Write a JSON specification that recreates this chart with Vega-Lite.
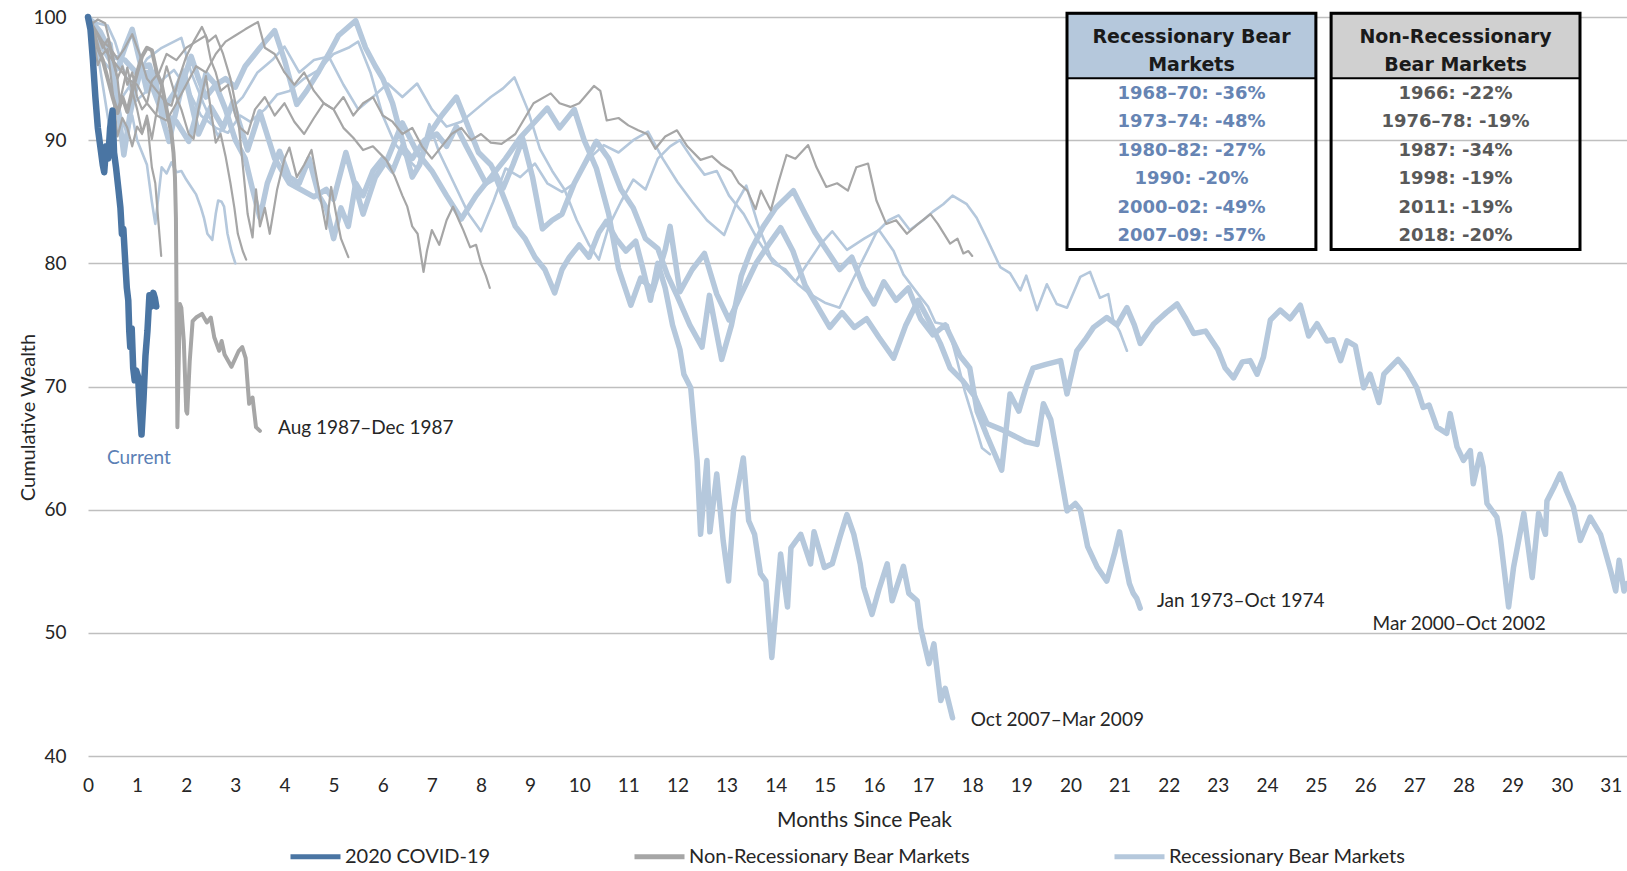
{
"$schema":"https://vega.github.io/schema/vega-lite/v6.json",
"width":1539,"height":739,
"autosize":{"type":"none"},
"padding":{"left":88,"top":17,"right":0,"bottom":115},
"background":"white",
"config":{"view":{"stroke":null},"font":"Lato"},
"datasets":{
"groups":[{"s":"covid","g":"2020 COVID-19"},{"s":"n66","g":"Non-Recessionary Bear Markets"},{"s":"n76","g":"Non-Recessionary Bear Markets"},{"s":"n87","g":"Non-Recessionary Bear Markets"},{"s":"n98","g":"Non-Recessionary Bear Markets"},{"s":"n11","g":"Non-Recessionary Bear Markets"},{"s":"n18","g":"Non-Recessionary Bear Markets"},{"s":"r68","g":"Recessionary Bear Markets"},{"s":"r73","g":"Recessionary Bear Markets"},{"s":"r80","g":"Recessionary Bear Markets"},{"s":"r90","g":"Recessionary Bear Markets"},{"s":"r00","g":"Recessionary Bear Markets"},{"s":"r07","g":"Recessionary Bear Markets"}],
"pts":[
{"s":"covid","m":0,"v":100},{"s":"covid","m":0.05,"v":99},{"s":"covid","m":0.1,"v":96.5},{"s":"covid","m":0.15,"v":93.5},{"s":"covid","m":0.2,"v":91},{"s":"covid","m":0.25,"v":89.5},{"s":"covid","m":0.3,"v":88},{"s":"covid","m":0.33,"v":87.4},{"s":"covid","m":0.37,"v":89.5},{"s":"covid","m":0.41,"v":88.5},{"s":"covid","m":0.45,"v":91},{"s":"covid","m":0.5,"v":92.4},{"s":"covid","m":0.53,"v":89},{"s":"covid","m":0.57,"v":87.8},{"s":"covid","m":0.62,"v":86},{"s":"covid","m":0.66,"v":84.5},{"s":"covid","m":0.69,"v":82.4},{"s":"covid","m":0.72,"v":82.8},{"s":"covid","m":0.76,"v":80},{"s":"covid","m":0.79,"v":78},{"s":"covid","m":0.82,"v":77},{"s":"covid","m":0.84,"v":74.5},{"s":"covid","m":0.86,"v":73.2},{"s":"covid","m":0.89,"v":74.7},{"s":"covid","m":0.92,"v":71.5},{"s":"covid","m":0.95,"v":70.5},{"s":"covid","m":0.98,"v":71.3},{"s":"covid","m":1.02,"v":70.8},{"s":"covid","m":1.05,"v":68.5},{"s":"covid","m":1.09,"v":66.1},{"s":"covid","m":1.13,"v":69},{"s":"covid","m":1.17,"v":72.5},{"s":"covid","m":1.21,"v":74.5},{"s":"covid","m":1.25,"v":77.4},{"s":"covid","m":1.29,"v":76.5},{"s":"covid","m":1.33,"v":77.6},{"s":"covid","m":1.36,"v":77.2},{"s":"covid","m":1.39,"v":76.5},
{"s":"n87","m":0,"v":100},{"s":"n87","m":0.1,"v":99},{"s":"n87","m":0.2,"v":97.5},{"s":"n87","m":0.3,"v":96.5},{"s":"n87","m":0.4,"v":95},{"s":"n87","m":0.5,"v":93.5},{"s":"n87","m":0.6,"v":92.2},{"s":"n87","m":0.7,"v":93.5},{"s":"n87","m":0.8,"v":92.3},{"s":"n87","m":0.9,"v":94},{"s":"n87","m":1.0,"v":95.5},{"s":"n87","m":1.1,"v":96.8},{"s":"n87","m":1.2,"v":97.5},{"s":"n87","m":1.3,"v":97.3},{"s":"n87","m":1.4,"v":95.5},{"s":"n87","m":1.5,"v":94.5},{"s":"n87","m":1.6,"v":92.5},{"s":"n87","m":1.7,"v":90.5},{"s":"n87","m":1.74,"v":89},{"s":"n87","m":1.77,"v":87},{"s":"n87","m":1.79,"v":83.7},{"s":"n87","m":1.82,"v":66.7},{"s":"n87","m":1.87,"v":76.7},{"s":"n87","m":1.9,"v":76.4},{"s":"n87","m":1.95,"v":73.7},{"s":"n87","m":2.0,"v":68},{"s":"n87","m":2.02,"v":67.8},{"s":"n87","m":2.07,"v":72},{"s":"n87","m":2.13,"v":75.3},{"s":"n87","m":2.2,"v":75.6},{"s":"n87","m":2.32,"v":75.9},{"s":"n87","m":2.42,"v":75.2},{"s":"n87","m":2.5,"v":75.6},{"s":"n87","m":2.57,"v":74},{"s":"n87","m":2.67,"v":72.9},{"s":"n87","m":2.72,"v":73.7},{"s":"n87","m":2.78,"v":72.6},{"s":"n87","m":2.92,"v":71.6},{"s":"n87","m":3.07,"v":72.9},{"s":"n87","m":3.14,"v":73.2},{"s":"n87","m":3.21,"v":72.3},{"s":"n87","m":3.28,"v":68.6},{"s":"n87","m":3.35,"v":69.1},{"s":"n87","m":3.42,"v":66.7},{"s":"n87","m":3.5,"v":66.4},
{"s":"n98","m":0,"v":100},{"s":"n98","m":0.1,"v":98.5},{"s":"n98","m":0.2,"v":96.1},{"s":"n98","m":0.3,"v":97},{"s":"n98","m":0.4,"v":97.4},{"s":"n98","m":0.5,"v":94},{"s":"n98","m":0.6,"v":90.3},{"s":"n98","m":0.7,"v":91.8},{"s":"n98","m":0.8,"v":91},{"s":"n98","m":0.9,"v":89.5},{"s":"n98","m":1.0,"v":91.1},{"s":"n98","m":1.1,"v":90.5},{"s":"n98","m":1.2,"v":91.7},{"s":"n98","m":1.3,"v":87.8},{"s":"n98","m":1.37,"v":86.5},{"s":"n98","m":1.42,"v":84},{"s":"n98","m":1.49,"v":80.6},
{"s":"n18","m":0,"v":100},{"s":"n18","m":0.1,"v":99.5},{"s":"n18","m":0.2,"v":99.8},{"s":"n18","m":0.35,"v":99.5},{"s":"n18","m":0.5,"v":97},{"s":"n18","m":0.6,"v":95},{"s":"n18","m":0.65,"v":93.1},{"s":"n18","m":0.8,"v":95.9},{"s":"n18","m":0.9,"v":94},{"s":"n18","m":1.0,"v":92.5},{"s":"n18","m":1.1,"v":90.6},{"s":"n18","m":1.2,"v":92},{"s":"n18","m":1.3,"v":90.1},{"s":"n18","m":1.45,"v":93.5},{"s":"n18","m":1.6,"v":96},{"s":"n18","m":1.75,"v":94},{"s":"n18","m":1.9,"v":92.5},{"s":"n18","m":2.05,"v":90.5},{"s":"n18","m":2.15,"v":90.1},{"s":"n18","m":2.25,"v":92.5},{"s":"n18","m":2.4,"v":95.2},{"s":"n18","m":2.5,"v":92.5},{"s":"n18","m":2.6,"v":89.8},{"s":"n18","m":2.7,"v":90.5},{"s":"n18","m":2.8,"v":88.7},{"s":"n18","m":2.9,"v":86.5},{"s":"n18","m":2.98,"v":84.5},{"s":"n18","m":3.05,"v":82.4},{"s":"n18","m":3.15,"v":81},{"s":"n18","m":3.22,"v":80.3},
{"s":"n11","m":0,"v":100},{"s":"n11","m":0.15,"v":99},{"s":"n11","m":0.3,"v":98},{"s":"n11","m":0.45,"v":97.5},{"s":"n11","m":0.6,"v":96.6},{"s":"n11","m":0.75,"v":97.5},{"s":"n11","m":0.9,"v":98.6},{"s":"n11","m":1.05,"v":97},{"s":"n11","m":1.2,"v":95},{"s":"n11","m":1.4,"v":94},{"s":"n11","m":1.6,"v":93},{"s":"n11","m":1.7,"v":92.8},{"s":"n11","m":1.85,"v":95},{"s":"n11","m":2.0,"v":96.8},{"s":"n11","m":2.15,"v":98},{"s":"n11","m":2.32,"v":99.2},{"s":"n11","m":2.45,"v":98},{"s":"n11","m":2.6,"v":98.5},{"s":"n11","m":2.75,"v":97},{"s":"n11","m":2.9,"v":95},{"s":"n11","m":3.05,"v":92},{"s":"n11","m":3.15,"v":88},{"s":"n11","m":3.25,"v":84},{"s":"n11","m":3.35,"v":82.1},{"s":"n11","m":3.42,"v":86},{"s":"n11","m":3.5,"v":83},{"s":"n11","m":3.6,"v":84.5},{"s":"n11","m":3.7,"v":82.4},{"s":"n11","m":3.85,"v":86},{"s":"n11","m":4.0,"v":88.5},{"s":"n11","m":4.1,"v":89.4},{"s":"n11","m":4.25,"v":87},{"s":"n11","m":4.4,"v":88},{"s":"n11","m":4.55,"v":89.2},{"s":"n11","m":4.7,"v":86},{"s":"n11","m":4.85,"v":82.8},{"s":"n11","m":4.95,"v":86.2},{"s":"n11","m":5.05,"v":84},{"s":"n11","m":5.15,"v":82},{"s":"n11","m":5.3,"v":80.5},
{"s":"n66","m":0,"v":100},{"s":"n66","m":0.1,"v":99.3},{"s":"n66","m":0.2,"v":98.5},{"s":"n66","m":0.3,"v":97.5},{"s":"n66","m":0.4,"v":98.2},{"s":"n66","m":0.5,"v":96.5},{"s":"n66","m":0.6,"v":95},{"s":"n66","m":0.7,"v":96},{"s":"n66","m":0.8,"v":94.5},{"s":"n66","m":0.9,"v":95.5},{"s":"n66","m":1.0,"v":93.5},{"s":"n66","m":1.1,"v":92.5},{"s":"n66","m":1.2,"v":93},{"s":"n66","m":1.3,"v":94.8},{"s":"n66","m":1.45,"v":95.5},{"s":"n66","m":1.6,"v":97},{"s":"n66","m":1.8,"v":96.5},{"s":"n66","m":2.0,"v":97.5},{"s":"n66","m":2.2,"v":98},{"s":"n66","m":2.4,"v":98.5},{"s":"n66","m":2.5,"v":96.5},{"s":"n66","m":2.6,"v":95.5},{"s":"n66","m":2.7,"v":94},{"s":"n66","m":2.85,"v":94.5},{"s":"n66","m":3.0,"v":92},{"s":"n66","m":3.1,"v":91},{"s":"n66","m":3.25,"v":90.5},{"s":"n66","m":3.4,"v":92.5},{"s":"n66","m":3.6,"v":93.5},{"s":"n66","m":3.8,"v":92},{"s":"n66","m":4.0,"v":93},{"s":"n66","m":4.2,"v":91.5},{"s":"n66","m":4.4,"v":90.5},{"s":"n66","m":4.6,"v":91.8},{"s":"n66","m":4.8,"v":93},{"s":"n66","m":5.0,"v":92.5},{"s":"n66","m":5.2,"v":91},{"s":"n66","m":5.4,"v":90.2},{"s":"n66","m":5.6,"v":89.2},{"s":"n66","m":5.8,"v":89.5},{"s":"n66","m":6.07,"v":88.4},{"s":"n66","m":6.25,"v":87},{"s":"n66","m":6.4,"v":85.5},{"s":"n66","m":6.5,"v":84.6},{"s":"n66","m":6.6,"v":83},{"s":"n66","m":6.71,"v":82.4},{"s":"n66","m":6.83,"v":79.3},{"s":"n66","m":6.9,"v":81},{"s":"n66","m":7.0,"v":82.7},{"s":"n66","m":7.15,"v":81.5},{"s":"n66","m":7.3,"v":83.5},{"s":"n66","m":7.43,"v":84.6},{"s":"n66","m":7.55,"v":83.5},{"s":"n66","m":7.64,"v":82.7},{"s":"n66","m":7.78,"v":81.3},{"s":"n66","m":7.9,"v":81.5},{"s":"n66","m":8.0,"v":80},{"s":"n66","m":8.1,"v":79},{"s":"n66","m":8.18,"v":78},
{"s":"n76","m":0,"v":100},{"s":"n76","m":0.2,"v":98.5},{"s":"n76","m":0.4,"v":97},{"s":"n76","m":0.6,"v":96},{"s":"n76","m":0.8,"v":95},{"s":"n76","m":1.0,"v":94.5},{"s":"n76","m":1.2,"v":93},{"s":"n76","m":1.4,"v":92},{"s":"n76","m":1.6,"v":91.6},{"s":"n76","m":1.8,"v":93},{"s":"n76","m":2.0,"v":94.5},{"s":"n76","m":2.2,"v":96},{"s":"n76","m":2.4,"v":95.5},{"s":"n76","m":2.6,"v":97},{"s":"n76","m":2.8,"v":98},{"s":"n76","m":3.0,"v":98.5},{"s":"n76","m":3.2,"v":99},{"s":"n76","m":3.46,"v":99.6},{"s":"n76","m":3.6,"v":97.5},{"s":"n76","m":3.8,"v":97},{"s":"n76","m":4.0,"v":95.5},{"s":"n76","m":4.2,"v":94.5},{"s":"n76","m":4.4,"v":95.5},{"s":"n76","m":4.6,"v":94},{"s":"n76","m":4.8,"v":93},{"s":"n76","m":5.0,"v":92.5},{"s":"n76","m":5.2,"v":93.5},{"s":"n76","m":5.4,"v":92},{"s":"n76","m":5.6,"v":93},{"s":"n76","m":5.8,"v":93.5},{"s":"n76","m":6.0,"v":92},{"s":"n76","m":6.2,"v":91.5},{"s":"n76","m":6.4,"v":90.5},{"s":"n76","m":6.6,"v":91},{"s":"n76","m":6.8,"v":89.5},{"s":"n76","m":7.0,"v":88.5},{"s":"n76","m":7.2,"v":89.5},{"s":"n76","m":7.4,"v":90.5},{"s":"n76","m":7.6,"v":91},{"s":"n76","m":7.8,"v":90},{"s":"n76","m":8.0,"v":90.5},{"s":"n76","m":8.2,"v":89.8},{"s":"n76","m":8.42,"v":89.7},{"s":"n76","m":8.7,"v":90.5},{"s":"n76","m":9.07,"v":93},{"s":"n76","m":9.42,"v":93.8},{"s":"n76","m":9.6,"v":93},{"s":"n76","m":9.82,"v":92.7},{"s":"n76","m":10.0,"v":93},{"s":"n76","m":10.3,"v":94.4},{"s":"n76","m":10.43,"v":94},{"s":"n76","m":10.56,"v":91.6},{"s":"n76","m":10.8,"v":91.8},{"s":"n76","m":11.0,"v":91.2},{"s":"n76","m":11.2,"v":90.8},{"s":"n76","m":11.38,"v":90.5},{"s":"n76","m":11.55,"v":89.3},{"s":"n76","m":11.75,"v":90.3},{"s":"n76","m":11.99,"v":90.8},{"s":"n76","m":12.2,"v":89.5},{"s":"n76","m":12.47,"v":88.4},{"s":"n76","m":12.7,"v":88.7},{"s":"n76","m":12.9,"v":88},{"s":"n76","m":13.1,"v":87.5},{"s":"n76","m":13.25,"v":86.5},{"s":"n76","m":13.42,"v":85.9},{"s":"n76","m":13.59,"v":84.4},{"s":"n76","m":13.7,"v":85.9},{"s":"n76","m":13.9,"v":84.3},{"s":"n76","m":14.05,"v":86.5},{"s":"n76","m":14.22,"v":88.8},{"s":"n76","m":14.4,"v":88.5},{"s":"n76","m":14.66,"v":89.6},{"s":"n76","m":14.83,"v":87.8},{"s":"n76","m":15.03,"v":86.2},{"s":"n76","m":15.25,"v":86.5},{"s":"n76","m":15.47,"v":85.9},{"s":"n76","m":15.64,"v":87.8},{"s":"n76","m":15.88,"v":88.1},{"s":"n76","m":16.05,"v":85.1},{"s":"n76","m":16.25,"v":83.2},{"s":"n76","m":16.45,"v":83.5},{"s":"n76","m":16.67,"v":82.4},{"s":"n76","m":16.9,"v":83.2},{"s":"n76","m":17.15,"v":84},{"s":"n76","m":17.3,"v":83.2},{"s":"n76","m":17.55,"v":81.6},{"s":"n76","m":17.7,"v":82},{"s":"n76","m":17.82,"v":80.8},{"s":"n76","m":17.92,"v":81},{"s":"n76","m":18.0,"v":80.6},
{"s":"r90","m":0,"v":100},{"s":"r90","m":0.1,"v":99},{"s":"r90","m":0.2,"v":97.5},{"s":"r90","m":0.3,"v":96.5},{"s":"r90","m":0.4,"v":96},{"s":"r90","m":0.5,"v":95.5},{"s":"r90","m":0.6,"v":93},{"s":"r90","m":0.7,"v":91.5},{"s":"r90","m":0.8,"v":90.5},{"s":"r90","m":0.9,"v":92},{"s":"r90","m":1.0,"v":90},{"s":"r90","m":1.1,"v":89},{"s":"r90","m":1.2,"v":88},{"s":"r90","m":1.3,"v":85},{"s":"r90","m":1.37,"v":83.2},{"s":"r90","m":1.45,"v":86},{"s":"r90","m":1.5,"v":87.8},{"s":"r90","m":1.6,"v":87.3},{"s":"r90","m":1.7,"v":88.2},{"s":"r90","m":1.8,"v":87.4},{"s":"r90","m":1.9,"v":87.5},{"s":"r90","m":2.0,"v":86.8},{"s":"r90","m":2.1,"v":86.2},{"s":"r90","m":2.2,"v":85.6},{"s":"r90","m":2.3,"v":84.5},{"s":"r90","m":2.36,"v":83.7},{"s":"r90","m":2.43,"v":82.4},{"s":"r90","m":2.53,"v":81.9},{"s":"r90","m":2.6,"v":84},{"s":"r90","m":2.65,"v":85.1},{"s":"r90","m":2.72,"v":85},{"s":"r90","m":2.77,"v":84.6},{"s":"r90","m":2.84,"v":82.4},{"s":"r90","m":2.92,"v":81},{"s":"r90","m":3.0,"v":80},
{"s":"r68","m":0,"v":100},{"s":"r68","m":0.2,"v":99.5},{"s":"r68","m":0.4,"v":99.3},{"s":"r68","m":0.55,"v":98},{"s":"r68","m":0.72,"v":95.8},{"s":"r68","m":0.95,"v":93.1},{"s":"r68","m":1.2,"v":94},{"s":"r68","m":1.45,"v":94.7},{"s":"r68","m":1.75,"v":95.7},{"s":"r68","m":2.05,"v":94},{"s":"r68","m":2.3,"v":92},{"s":"r68","m":2.6,"v":91},{"s":"r68","m":2.85,"v":90.6},{"s":"r68","m":3.1,"v":92},{"s":"r68","m":3.3,"v":91.5},{"s":"r68","m":3.6,"v":92.5},{"s":"r68","m":3.85,"v":93.7},{"s":"r68","m":4.1,"v":94},{"s":"r68","m":4.4,"v":95},{"s":"r68","m":4.7,"v":95.7},{"s":"r68","m":5.0,"v":97},{"s":"r68","m":5.3,"v":97.5},{"s":"r68","m":5.5,"v":98},{"s":"r68","m":5.75,"v":95.5},{"s":"r68","m":6.0,"v":92},{"s":"r68","m":6.25,"v":89.7},{"s":"r68","m":6.5,"v":88.5},{"s":"r68","m":6.7,"v":87.7},{"s":"r68","m":6.95,"v":91.3},{"s":"r68","m":7.15,"v":89},{"s":"r68","m":7.45,"v":86.5},{"s":"r68","m":7.75,"v":84},{"s":"r68","m":8.0,"v":82.6},{"s":"r68","m":8.25,"v":85},{"s":"r68","m":8.5,"v":87.7},{"s":"r68","m":8.8,"v":87},{"s":"r68","m":9.1,"v":88.1},{"s":"r68","m":9.35,"v":86.5},{"s":"r68","m":9.65,"v":85.8},{"s":"r68","m":9.9,"v":86.5},{"s":"r68","m":10.2,"v":88.5},{"s":"r68","m":10.5,"v":89.6},{"s":"r68","m":10.8,"v":89},{"s":"r68","m":11.1,"v":90},{"s":"r68","m":11.4,"v":90.7},{"s":"r68","m":11.7,"v":88.5},{"s":"r68","m":12.0,"v":86.6},{"s":"r68","m":12.3,"v":85},{"s":"r68","m":12.6,"v":83.5},{"s":"r68","m":12.95,"v":82.3},{"s":"r68","m":13.2,"v":84.9},{"s":"r68","m":13.4,"v":86.3},{"s":"r68","m":13.65,"v":83},{"s":"r68","m":13.9,"v":80.5},{"s":"r68","m":14.15,"v":79.5},{"s":"r68","m":14.4,"v":78.5},{"s":"r68","m":14.65,"v":80},{"s":"r68","m":14.9,"v":81.5},{"s":"r68","m":15.15,"v":82.6},{"s":"r68","m":15.45,"v":81.1},{"s":"r68","m":15.8,"v":82},{"s":"r68","m":16.1,"v":82.7},{"s":"r68","m":16.4,"v":81},{"s":"r68","m":16.6,"v":79.1},{"s":"r68","m":16.9,"v":77.5},{"s":"r68","m":17.1,"v":76.5},{"s":"r68","m":17.25,"v":75.2},{"s":"r68","m":17.5,"v":75},{"s":"r68","m":17.7,"v":72},{"s":"r68","m":17.85,"v":69.6},{"s":"r68","m":18.05,"v":67},{"s":"r68","m":18.2,"v":65},{"s":"r68","m":18.36,"v":64.5},
{"s":"r80","m":0,"v":100},{"s":"r80","m":0.2,"v":97},{"s":"r80","m":0.45,"v":90.7},{"s":"r80","m":0.7,"v":93.5},{"s":"r80","m":0.95,"v":95},{"s":"r80","m":1.2,"v":96.6},{"s":"r80","m":1.5,"v":97.5},{"s":"r80","m":1.9,"v":98.3},{"s":"r80","m":2.1,"v":95.5},{"s":"r80","m":2.35,"v":93},{"s":"r80","m":2.65,"v":90.3},{"s":"r80","m":2.9,"v":92.5},{"s":"r80","m":3.15,"v":93.5},{"s":"r80","m":3.45,"v":95.5},{"s":"r80","m":3.75,"v":96.5},{"s":"r80","m":4.0,"v":97.6},{"s":"r80","m":4.3,"v":95.5},{"s":"r80","m":4.6,"v":96.5},{"s":"r80","m":4.9,"v":96.8},{"s":"r80","m":5.2,"v":94.5},{"s":"r80","m":5.5,"v":92.5},{"s":"r80","m":5.8,"v":93.5},{"s":"r80","m":6.1,"v":94.6},{"s":"r80","m":6.4,"v":93.5},{"s":"r80","m":6.7,"v":94.6},{"s":"r80","m":7.0,"v":92.5},{"s":"r80","m":7.3,"v":91.1},{"s":"r80","m":7.6,"v":91.5},{"s":"r80","m":7.9,"v":92.5},{"s":"r80","m":8.2,"v":93.5},{"s":"r80","m":8.45,"v":94.2},{"s":"r80","m":8.68,"v":95.1},{"s":"r80","m":8.95,"v":92.5},{"s":"r80","m":9.2,"v":89.3},{"s":"r80","m":9.45,"v":87.5},{"s":"r80","m":9.7,"v":86},{"s":"r80","m":9.95,"v":83.5},{"s":"r80","m":10.2,"v":81.5},{"s":"r80","m":10.4,"v":80.3},{"s":"r80","m":10.6,"v":83},{"s":"r80","m":10.85,"v":85},{"s":"r80","m":11.1,"v":86.8},{"s":"r80","m":11.35,"v":86},{"s":"r80","m":11.6,"v":88.5},{"s":"r80","m":11.85,"v":89.5},{"s":"r80","m":12.05,"v":90},{"s":"r80","m":12.3,"v":88.5},{"s":"r80","m":12.55,"v":87.2},{"s":"r80","m":12.8,"v":87.5},{"s":"r80","m":13.05,"v":85.5},{"s":"r80","m":13.35,"v":84},{"s":"r80","m":13.65,"v":81.8},{"s":"r80","m":13.95,"v":80},{"s":"r80","m":14.2,"v":79.5},{"s":"r80","m":14.45,"v":78.3},{"s":"r80","m":14.7,"v":77.5},{"s":"r80","m":15.0,"v":76.8},{"s":"r80","m":15.3,"v":76.4},{"s":"r80","m":15.55,"v":78.5},{"s":"r80","m":15.8,"v":80.5},{"s":"r80","m":16.05,"v":82.5},{"s":"r80","m":16.3,"v":83.5},{"s":"r80","m":16.5,"v":83.9},{"s":"r80","m":16.73,"v":82.7},{"s":"r80","m":17.0,"v":83.5},{"s":"r80","m":17.2,"v":84.2},{"s":"r80","m":17.41,"v":84.8},{"s":"r80","m":17.6,"v":85.5},{"s":"r80","m":17.89,"v":84.8},{"s":"r80","m":18.09,"v":83.7},{"s":"r80","m":18.3,"v":82},{"s":"r80","m":18.57,"v":79.7},{"s":"r80","m":18.77,"v":79.2},{"s":"r80","m":18.98,"v":77.8},{"s":"r80","m":19.1,"v":79},{"s":"r80","m":19.32,"v":76.2},{"s":"r80","m":19.52,"v":78.3},{"s":"r80","m":19.72,"v":76.7},{"s":"r80","m":19.93,"v":76.4},{"s":"r80","m":20.2,"v":78.9},{"s":"r80","m":20.4,"v":79.3},{"s":"r80","m":20.6,"v":77.2},{"s":"r80","m":20.77,"v":77.5},{"s":"r80","m":20.87,"v":75.4},{"s":"r80","m":21.0,"v":74.5},{"s":"r80","m":21.15,"v":72.9},
{"s":"r73","m":0,"v":100},{"s":"r73","m":0.25,"v":98.8},{"s":"r73","m":0.5,"v":96.8},{"s":"r73","m":0.75,"v":96.5},{"s":"r73","m":1.0,"v":95.4},{"s":"r73","m":1.2,"v":95.5},{"s":"r73","m":1.5,"v":92.3},{"s":"r73","m":1.75,"v":93.8},{"s":"r73","m":1.95,"v":95.6},{"s":"r73","m":2.25,"v":90.5},{"s":"r73","m":2.5,"v":92.7},{"s":"r73","m":2.75,"v":91},{"s":"r73","m":2.95,"v":93.1},{"s":"r73","m":3.25,"v":89.2},{"s":"r73","m":3.5,"v":92.3},{"s":"r73","m":3.8,"v":88.5},{"s":"r73","m":4.1,"v":86.5},{"s":"r73","m":4.6,"v":85.4},{"s":"r73","m":4.85,"v":86},{"s":"r73","m":5.0,"v":85.2},{"s":"r73","m":5.25,"v":89},{"s":"r73","m":5.6,"v":84},{"s":"r73","m":5.85,"v":87},{"s":"r73","m":6.1,"v":88.5},{"s":"r73","m":6.4,"v":91.4},{"s":"r73","m":6.7,"v":89},{"s":"r73","m":7.0,"v":87.5},{"s":"r73","m":7.3,"v":85.5},{"s":"r73","m":7.6,"v":83.6},{"s":"r73","m":7.9,"v":85.5},{"s":"r73","m":8.2,"v":87},{"s":"r73","m":8.5,"v":88.5},{"s":"r73","m":8.8,"v":90.2},{"s":"r73","m":9.1,"v":91.5},{"s":"r73","m":9.35,"v":92.6},{"s":"r73","m":9.6,"v":91},{"s":"r73","m":9.9,"v":92.5},{"s":"r73","m":10.1,"v":90},{"s":"r73","m":10.35,"v":87.7},{"s":"r73","m":10.6,"v":84},{"s":"r73","m":10.8,"v":79.6},{"s":"r73","m":11.05,"v":76.6},{"s":"r73","m":11.25,"v":78.8},{"s":"r73","m":11.5,"v":77.8},{"s":"r73","m":11.75,"v":81.1},{"s":"r73","m":11.85,"v":83},{"s":"r73","m":12.05,"v":77.7},{"s":"r73","m":12.3,"v":79.5},{"s":"r73","m":12.55,"v":80.8},{"s":"r73","m":12.8,"v":77.5},{"s":"r73","m":13.05,"v":75.4},{"s":"r73","m":13.3,"v":77.5},{"s":"r73","m":13.6,"v":80},{"s":"r73","m":13.85,"v":81.5},{"s":"r73","m":14.1,"v":82.9},{"s":"r73","m":14.35,"v":81},{"s":"r73","m":14.6,"v":78.2},{"s":"r73","m":14.85,"v":76.5},{"s":"r73","m":15.1,"v":74.8},{"s":"r73","m":15.35,"v":76},{"s":"r73","m":15.6,"v":74.8},{"s":"r73","m":15.85,"v":75.5},{"s":"r73","m":16.1,"v":74},{"s":"r73","m":16.4,"v":72.3},{"s":"r73","m":16.65,"v":75},{"s":"r73","m":16.9,"v":77},{"s":"r73","m":17.1,"v":75.5},{"s":"r73","m":17.35,"v":73.5},{"s":"r73","m":17.55,"v":71.5},{"s":"r73","m":17.8,"v":70.5},{"s":"r73","m":18.05,"v":69.2},{"s":"r73","m":18.3,"v":67},{"s":"r73","m":18.6,"v":66.5},{"s":"r73","m":18.85,"v":66},{"s":"r73","m":19.1,"v":65.5},{"s":"r73","m":19.32,"v":65.3},{"s":"r73","m":19.45,"v":68.6},{"s":"r73","m":19.6,"v":67.3},{"s":"r73","m":19.75,"v":64},{"s":"r73","m":19.93,"v":59.9},{"s":"r73","m":20.1,"v":60.5},{"s":"r73","m":20.2,"v":60},{"s":"r73","m":20.35,"v":57},{"s":"r73","m":20.55,"v":55.3},{"s":"r73","m":20.74,"v":54.2},{"s":"r73","m":20.9,"v":56.5},{"s":"r73","m":21.0,"v":58.2},{"s":"r73","m":21.1,"v":56},{"s":"r73","m":21.2,"v":54},{"s":"r73","m":21.28,"v":53.2},{"s":"r73","m":21.35,"v":52.8},{"s":"r73","m":21.42,"v":52},
{"s":"r00","m":0,"v":100},{"s":"r00","m":0.15,"v":99},{"s":"r00","m":0.3,"v":97.5},{"s":"r00","m":0.45,"v":97.8},{"s":"r00","m":0.6,"v":93},{"s":"r00","m":0.73,"v":88.8},{"s":"r00","m":0.85,"v":92},{"s":"r00","m":0.95,"v":93.9},{"s":"r00","m":1.1,"v":96},{"s":"r00","m":1.25,"v":96.1},{"s":"r00","m":1.4,"v":94},{"s":"r00","m":1.6,"v":92},{"s":"r00","m":1.8,"v":91.5},{"s":"r00","m":2.05,"v":89.9},{"s":"r00","m":2.2,"v":92},{"s":"r00","m":2.4,"v":95.4},{"s":"r00","m":2.6,"v":94.5},{"s":"r00","m":2.8,"v":95},{"s":"r00","m":3.0,"v":94.3},{"s":"r00","m":3.2,"v":96},{"s":"r00","m":3.5,"v":97.5},{"s":"r00","m":3.8,"v":98.9},{"s":"r00","m":4.0,"v":96.5},{"s":"r00","m":4.25,"v":92.9},{"s":"r00","m":4.45,"v":94},{"s":"r00","m":4.7,"v":95.6},{"s":"r00","m":4.9,"v":97},{"s":"r00","m":5.1,"v":98.5},{"s":"r00","m":5.45,"v":99.7},{"s":"r00","m":5.65,"v":97.5},{"s":"r00","m":5.85,"v":96},{"s":"r00","m":6.0,"v":95},{"s":"r00","m":6.2,"v":93},{"s":"r00","m":6.4,"v":90},{"s":"r00","m":6.6,"v":87},{"s":"r00","m":6.75,"v":88},{"s":"r00","m":6.95,"v":90.5},{"s":"r00","m":7.2,"v":92},{"s":"r00","m":7.5,"v":93.5},{"s":"r00","m":7.7,"v":91.5},{"s":"r00","m":7.95,"v":89},{"s":"r00","m":8.2,"v":88},{"s":"r00","m":8.45,"v":86.1},{"s":"r00","m":8.65,"v":88},{"s":"r00","m":8.85,"v":90.1},{"s":"r00","m":9.05,"v":87},{"s":"r00","m":9.25,"v":82.8},{"s":"r00","m":9.45,"v":83.5},{"s":"r00","m":9.65,"v":84},{"s":"r00","m":9.9,"v":86.5},{"s":"r00","m":10.1,"v":88},{"s":"r00","m":10.35,"v":89.9},{"s":"r00","m":10.6,"v":88.5},{"s":"r00","m":10.85,"v":86},{"s":"r00","m":11.1,"v":84.5},{"s":"r00","m":11.35,"v":82},{"s":"r00","m":11.6,"v":81.2},{"s":"r00","m":11.8,"v":79},{"s":"r00","m":12.0,"v":77.3},{"s":"r00","m":12.25,"v":75},{"s":"r00","m":12.5,"v":73.2},{"s":"r00","m":12.65,"v":77.4},{"s":"r00","m":12.9,"v":72.2},{"s":"r00","m":13.1,"v":75},{"s":"r00","m":13.3,"v":79},{"s":"r00","m":13.5,"v":81.1},{"s":"r00","m":13.75,"v":83},{"s":"r00","m":14.0,"v":84.5},{"s":"r00","m":14.36,"v":85.9},{"s":"r00","m":14.6,"v":84},{"s":"r00","m":14.8,"v":82.5},{"s":"r00","m":15.05,"v":81},{"s":"r00","m":15.3,"v":79.5},{"s":"r00","m":15.55,"v":80.5},{"s":"r00","m":15.8,"v":78},{"s":"r00","m":16.0,"v":76.7},{"s":"r00","m":16.2,"v":78.5},{"s":"r00","m":16.45,"v":77},{"s":"r00","m":16.7,"v":78},{"s":"r00","m":16.95,"v":75.5},{"s":"r00","m":17.2,"v":74.2},{"s":"r00","m":17.45,"v":75},{"s":"r00","m":17.75,"v":72.5},{"s":"r00","m":17.95,"v":71.5},{"s":"r00","m":18.1,"v":68},{"s":"r00","m":18.3,"v":66},{"s":"r00","m":18.6,"v":63.2},{"s":"r00","m":18.77,"v":69.4},{"s":"r00","m":18.95,"v":68},{"s":"r00","m":19.1,"v":70},{"s":"r00","m":19.24,"v":71.5},{"s":"r00","m":19.5,"v":71.8},{"s":"r00","m":19.8,"v":72.1},{"s":"r00","m":19.93,"v":69.4},{"s":"r00","m":20.13,"v":72.9},{"s":"r00","m":20.3,"v":73.8},{"s":"r00","m":20.47,"v":74.8},{"s":"r00","m":20.74,"v":75.6},{"s":"r00","m":20.95,"v":75},{"s":"r00","m":21.15,"v":76.4},{"s":"r00","m":21.3,"v":75},{"s":"r00","m":21.42,"v":73.5},{"s":"r00","m":21.7,"v":75.1},{"s":"r00","m":21.95,"v":76},{"s":"r00","m":22.17,"v":76.7},{"s":"r00","m":22.35,"v":75.5},{"s":"r00","m":22.51,"v":74.3},{"s":"r00","m":22.75,"v":74.5},{"s":"r00","m":23.0,"v":73},{"s":"r00","m":23.15,"v":71.5},{"s":"r00","m":23.32,"v":70.7},{"s":"r00","m":23.5,"v":72},{"s":"r00","m":23.66,"v":72.1},{"s":"r00","m":23.8,"v":71},{"s":"r00","m":23.93,"v":72.4},{"s":"r00","m":24.07,"v":75.4},{"s":"r00","m":24.27,"v":76.2},{"s":"r00","m":24.47,"v":75.5},{"s":"r00","m":24.68,"v":76.6},{"s":"r00","m":24.85,"v":74.1},{"s":"r00","m":25.02,"v":75.1},{"s":"r00","m":25.22,"v":73.7},{"s":"r00","m":25.35,"v":73.8},{"s":"r00","m":25.5,"v":72.1},{"s":"r00","m":25.63,"v":73.7},{"s":"r00","m":25.8,"v":73.3},{"s":"r00","m":25.97,"v":69.9},{"s":"r00","m":26.1,"v":71},{"s":"r00","m":26.28,"v":68.7},{"s":"r00","m":26.38,"v":71},{"s":"r00","m":26.5,"v":71.5},{"s":"r00","m":26.67,"v":72.2},{"s":"r00","m":26.85,"v":71.3},{"s":"r00","m":27.05,"v":69.9},{"s":"r00","m":27.18,"v":68.3},{"s":"r00","m":27.3,"v":68.5},{"s":"r00","m":27.46,"v":66.7},{"s":"r00","m":27.66,"v":66.2},{"s":"r00","m":27.73,"v":67.8},{"s":"r00","m":27.87,"v":65.1},{"s":"r00","m":28.0,"v":64},{"s":"r00","m":28.14,"v":64.8},{"s":"r00","m":28.2,"v":62.1},{"s":"r00","m":28.34,"v":64.5},{"s":"r00","m":28.4,"v":63.5},{"s":"r00","m":28.48,"v":60.5},{"s":"r00","m":28.68,"v":59.4},{"s":"r00","m":28.75,"v":57.8},{"s":"r00","m":28.92,"v":52.1},{"s":"r00","m":29.02,"v":55.3},{"s":"r00","m":29.23,"v":59.7},{"s":"r00","m":29.4,"v":54.5},{"s":"r00","m":29.53,"v":59.7},{"s":"r00","m":29.67,"v":58},{"s":"r00","m":29.7,"v":60.7},{"s":"r00","m":29.84,"v":61.8},{"s":"r00","m":29.97,"v":62.9},{"s":"r00","m":30.1,"v":61.5},{"s":"r00","m":30.24,"v":60.2},{"s":"r00","m":30.38,"v":57.5},{"s":"r00","m":30.58,"v":59.4},{"s":"r00","m":30.79,"v":58},{"s":"r00","m":31.0,"v":55},{"s":"r00","m":31.1,"v":53.4},{"s":"r00","m":31.17,"v":55.9},{"s":"r00","m":31.27,"v":53.4},{"s":"r00","m":31.33,"v":54},
{"s":"r07","m":0,"v":100},{"s":"r07","m":0.15,"v":99},{"s":"r07","m":0.3,"v":97.5},{"s":"r07","m":0.45,"v":96.5},{"s":"r07","m":0.6,"v":95.8},{"s":"r07","m":0.75,"v":97.5},{"s":"r07","m":0.9,"v":99},{"s":"r07","m":1.05,"v":96.5},{"s":"r07","m":1.2,"v":94},{"s":"r07","m":1.35,"v":95.5},{"s":"r07","m":1.5,"v":92},{"s":"r07","m":1.65,"v":89.9},{"s":"r07","m":1.8,"v":92.5},{"s":"r07","m":1.95,"v":95},{"s":"r07","m":2.1,"v":96.8},{"s":"r07","m":2.25,"v":95},{"s":"r07","m":2.4,"v":93.5},{"s":"r07","m":2.6,"v":94.5},{"s":"r07","m":2.8,"v":92.5},{"s":"r07","m":3.0,"v":90},{"s":"r07","m":3.2,"v":88.5},{"s":"r07","m":3.35,"v":86},{"s":"r07","m":3.5,"v":83.7},{"s":"r07","m":3.65,"v":86.5},{"s":"r07","m":3.9,"v":89.1},{"s":"r07","m":4.1,"v":87},{"s":"r07","m":4.3,"v":86.5},{"s":"r07","m":4.5,"v":88.5},{"s":"r07","m":4.7,"v":85.5},{"s":"r07","m":4.85,"v":84.5},{"s":"r07","m":5.0,"v":82},{"s":"r07","m":5.15,"v":84.5},{"s":"r07","m":5.3,"v":83},{"s":"r07","m":5.45,"v":86.5},{"s":"r07","m":5.6,"v":85.5},{"s":"r07","m":5.8,"v":87.5},{"s":"r07","m":6.0,"v":88.5},{"s":"r07","m":6.2,"v":87.5},{"s":"r07","m":6.4,"v":89.5},{"s":"r07","m":6.6,"v":88.5},{"s":"r07","m":6.85,"v":90},{"s":"r07","m":7.1,"v":90.5},{"s":"r07","m":7.3,"v":89.5},{"s":"r07","m":7.5,"v":91.1},{"s":"r07","m":7.7,"v":89.5},{"s":"r07","m":7.9,"v":88},{"s":"r07","m":8.1,"v":86.5},{"s":"r07","m":8.3,"v":87},{"s":"r07","m":8.5,"v":85},{"s":"r07","m":8.7,"v":83},{"s":"r07","m":8.9,"v":82},{"s":"r07","m":9.1,"v":80.5},{"s":"r07","m":9.3,"v":79.5},{"s":"r07","m":9.5,"v":77.6},{"s":"r07","m":9.65,"v":79.5},{"s":"r07","m":9.8,"v":80.5},{"s":"r07","m":10.0,"v":81.5},{"s":"r07","m":10.2,"v":80.5},{"s":"r07","m":10.4,"v":82.5},{"s":"r07","m":10.55,"v":83.4},{"s":"r07","m":10.75,"v":82},{"s":"r07","m":10.95,"v":81},{"s":"r07","m":11.15,"v":81.8},{"s":"r07","m":11.3,"v":79.5},{"s":"r07","m":11.45,"v":77},{"s":"r07","m":11.6,"v":80},{"s":"r07","m":11.75,"v":78},{"s":"r07","m":11.9,"v":75},{"s":"r07","m":12.05,"v":73},{"s":"r07","m":12.13,"v":71},{"s":"r07","m":12.27,"v":69.9},{"s":"r07","m":12.4,"v":64},{"s":"r07","m":12.47,"v":58},{"s":"r07","m":12.6,"v":64},{"s":"r07","m":12.66,"v":58.2},{"s":"r07","m":12.8,"v":62.9},{"s":"r07","m":12.93,"v":57.5},{"s":"r07","m":13.04,"v":54.2},{"s":"r07","m":13.14,"v":59.9},{"s":"r07","m":13.34,"v":64.2},{"s":"r07","m":13.45,"v":59.1},{"s":"r07","m":13.57,"v":58},{"s":"r07","m":13.69,"v":54.8},{"s":"r07","m":13.8,"v":54.2},{"s":"r07","m":13.92,"v":48},{"s":"r07","m":14.1,"v":56.4},{"s":"r07","m":14.24,"v":52.1},{"s":"r07","m":14.31,"v":56.9},{"s":"r07","m":14.51,"v":58},{"s":"r07","m":14.71,"v":55.6},{"s":"r07","m":14.78,"v":58.2},{"s":"r07","m":14.99,"v":55.3},{"s":"r07","m":15.15,"v":55.6},{"s":"r07","m":15.31,"v":57.8},{"s":"r07","m":15.45,"v":59.6},{"s":"r07","m":15.59,"v":58},{"s":"r07","m":15.72,"v":55.6},{"s":"r07","m":15.79,"v":53.7},{"s":"r07","m":15.96,"v":51.5},{"s":"r07","m":16.1,"v":53.5},{"s":"r07","m":16.27,"v":55.6},{"s":"r07","m":16.37,"v":52.6},{"s":"r07","m":16.6,"v":55.4},{"s":"r07","m":16.71,"v":53.2},{"s":"r07","m":16.88,"v":52.6},{"s":"r07","m":16.95,"v":50.4},{"s":"r07","m":17.12,"v":47.5},{"s":"r07","m":17.22,"v":49.1},{"s":"r07","m":17.36,"v":44.5},{"s":"r07","m":17.45,"v":45.5},{"s":"r07","m":17.6,"v":43.1}
],
"notes":[{"t":"Current","m":0.385,"v":64.2},{"t":"Aug 1987–Dec 1987","m":3.87,"v":66.6},{"t":"Oct 2007–Mar 2009","m":17.97,"v":42.9},{"t":"Jan 1973–Oct 1974","m":21.76,"v":52.6},{"t":"Mar 2000–Oct 2002","m":26.15,"v":50.7}],
"tbl":[{"table":"rec","line":1,"text":"Recessionary Bear"},{"table":"rec","line":2,"text":"Markets"},{"table":"rec","line":3,"text":"1968–70: -36%"},{"table":"rec","line":4,"text":"1973–74: -48%"},{"table":"rec","line":5,"text":"1980–82: -27%"},{"table":"rec","line":6,"text":"1990: -20%"},{"table":"rec","line":7,"text":"2000–02: -49%"},{"table":"rec","line":8,"text":"2007–09: -57%"},{"table":"non","line":1,"text":"Non-Recessionary"},{"table":"non","line":2,"text":"Bear Markets"},{"table":"non","line":3,"text":"1966: -22%"},{"table":"non","line":4,"text":"1976–78: -19%"},{"table":"non","line":5,"text":"1987: -34%"},{"table":"non","line":6,"text":"1998: -19%"},{"table":"non","line":7,"text":"2011: -19%"},{"table":"non","line":8,"text":"2018: -20%"}],
"boxes":[{"table":"rec"},{"table":"non"}]
},
"layer":[
{
"encoding":{
"x":{"field":"m","type":"quantitative","scale":{"domain":[0,31.33],"nice":false,"zero":false},"axis":{"values":[0,1,2,3,4,5,6,7,8,9,10,11,12,13,14,15,16,17,18,19,20,21,22,23,24,25,26,27,28,29,30,31],"title":"Months Since Peak","grid":false,"domain":false,"ticks":false,"labelFont":"Lato","labelFontSize":19,"labelColor":"#262626","labelPadding":20,"labelFlush":false,"labelOverlap":false,"titleFont":"Lato","titleFontSize":21,"titleFontWeight":"normal","titleColor":"#262626","titleX":776,"titleY":64,"titleBaseline":"middle"}},
"y":{"field":"v","type":"quantitative","scale":{"domain":[40,100],"nice":false,"zero":false},"axis":{"values":[40,50,60,70,80,90,100],"title":"Cumulative Wealth","grid":true,"gridColor":"#bfbfbf","gridWidth":1.5,"domain":false,"ticks":false,"labelFont":"Lato","labelFontSize":19,"labelColor":"#262626","labelPadding":22,"labelFlush":false,"titleFont":"Lato","titleFontSize":20,"titleFontWeight":"normal","titleColor":"#262626","titleX":-60,"titleY":400,"titleAngle":-90,"titleAlign":"center","titleBaseline":"middle"}},
"color":{"field":"g","type":"nominal","scale":{"domain":["2020 COVID-19","Non-Recessionary Bear Markets","Recessionary Bear Markets"],"range":["#4a75a3","#a6a6a6","#b5c8dc"]},"legend":{"orient":"none","direction":"horizontal","legendX":200,"legendY":812,"title":null,"symbolType":"stroke","symbolSize":2500,"symbolStrokeWidth":5,"labelFont":"Lato","labelFontSize":20,"labelColor":"#262626","labelOffset":2,"labelLimit":500,"columnPadding":133,"padding":0}}
},
"layer":[
{"data":{"name":"pts"},"transform":[{"lookup":"s","from":{"data":{"name":"groups"},"key":"s","fields":["g"]}},{"filter":{"field":"s","oneOf":["r68","r80","r90"]}}],
"mark":{"type":"line","strokeJoin":"round","strokeCap":"round","strokeWidth":2.6},"encoding":{"detail":{"field":"s"}}},
{"data":{"name":"pts"},"transform":[{"lookup":"s","from":{"data":{"name":"groups"},"key":"s","fields":["g"]}},{"filter":{"field":"s","oneOf":["r73","r00","r07"]}}],
"mark":{"type":"line","strokeJoin":"round","strokeCap":"round","strokeWidth":5.5},"encoding":{"detail":{"field":"s"}}},
{"data":{"name":"pts"},"transform":[{"lookup":"s","from":{"data":{"name":"groups"},"key":"s","fields":["g"]}},{"filter":{"field":"s","oneOf":["n66","n76","n98","n11","n18"]}}],
"mark":{"type":"line","strokeJoin":"round","strokeCap":"round","strokeWidth":2.2},"encoding":{"detail":{"field":"s"}}},
{"data":{"name":"pts"},"transform":[{"lookup":"s","from":{"data":{"name":"groups"},"key":"s","fields":["g"]}},{"filter":{"field":"s","oneOf":["n87"]}}],
"mark":{"type":"line","strokeJoin":"round","strokeCap":"round","strokeWidth":4},"encoding":{"detail":{"field":"s"}}},
{"data":{"name":"pts"},"transform":[{"lookup":"s","from":{"data":{"name":"groups"},"key":"s","fields":["g"]}},{"filter":{"field":"s","oneOf":["covid"]}}],
"mark":{"type":"line","strokeJoin":"round","strokeCap":"round","strokeWidth":6.5},"encoding":{"detail":{"field":"s"}}},
{"data":{"name":"notes"},"mark":{"type":"text","align":"left","baseline":"middle","font":"Lato","fontSize":19},
"encoding":{"text":{"field":"t"},"color":{"condition":{"test":"datum.t === 'Current'","value":"#5b7fb5"},"value":"#262626"}}}
]
},
{
"layer":[
{"data":{"name":"boxes"},"mark":{"type":"rect","stroke":"#000","strokeWidth":2},
"encoding":{"x":{"field":"table","type":"nominal","scale":{"type":"band","domain":["rec","non"],"range":[979,1492],"paddingInner":0.0575,"paddingOuter":0},"axis":null},
"y":{"datum":0.18,"type":"quantitative","scale":{"domain":[0,9],"range":[-8.77,247.5]},"axis":null},"y2":{"datum":2.46},
"fill":{"field":"table","type":"nominal","scale":{"domain":["rec","non"],"range":["#b5c8dc","#d0d0d0"]},"legend":null}}},
{"data":{"name":"boxes"},"mark":{"type":"rect","fill":"transparent","stroke":"#000","strokeWidth":3},
"encoding":{"x":{"field":"table","type":"nominal","axis":null},"y":{"datum":0.18,"type":"quantitative"},"y2":{"datum":8.47}}},
{"data":{"name":"tbl"},"transform":[{"filter":"datum.line <= 2"}],"mark":{"type":"text","font":"DejaVu Sans","fontWeight":"bold","fontSize":19,"color":"#1a1a1a","baseline":"middle","align":"center"},
"encoding":{"x":{"field":"table","type":"nominal","bandPosition":0.5,"axis":null},"y":{"field":"line","type":"quantitative"},"text":{"field":"text"}}},
{"data":{"name":"tbl"},"transform":[{"filter":"datum.line > 2 && datum.table === 'rec'"}],"mark":{"type":"text","font":"DejaVu Sans","fontWeight":"bold","fontSize":18,"color":"#6684b3","baseline":"middle","align":"center"},
"encoding":{"x":{"field":"table","type":"nominal","bandPosition":0.5,"axis":null},"y":{"field":"line","type":"quantitative"},"text":{"field":"text"}}},
{"data":{"name":"tbl"},"transform":[{"filter":"datum.line > 2 && datum.table === 'non'"}],"mark":{"type":"text","font":"DejaVu Sans","fontWeight":"bold","fontSize":18,"color":"#595959","baseline":"middle","align":"center"},
"encoding":{"x":{"field":"table","type":"nominal","bandPosition":0.5,"axis":null},"y":{"field":"line","type":"quantitative"},"text":{"field":"text"}}}
]
}
],
"resolve":{"scale":{"x":"independent","y":"independent"}}
}
